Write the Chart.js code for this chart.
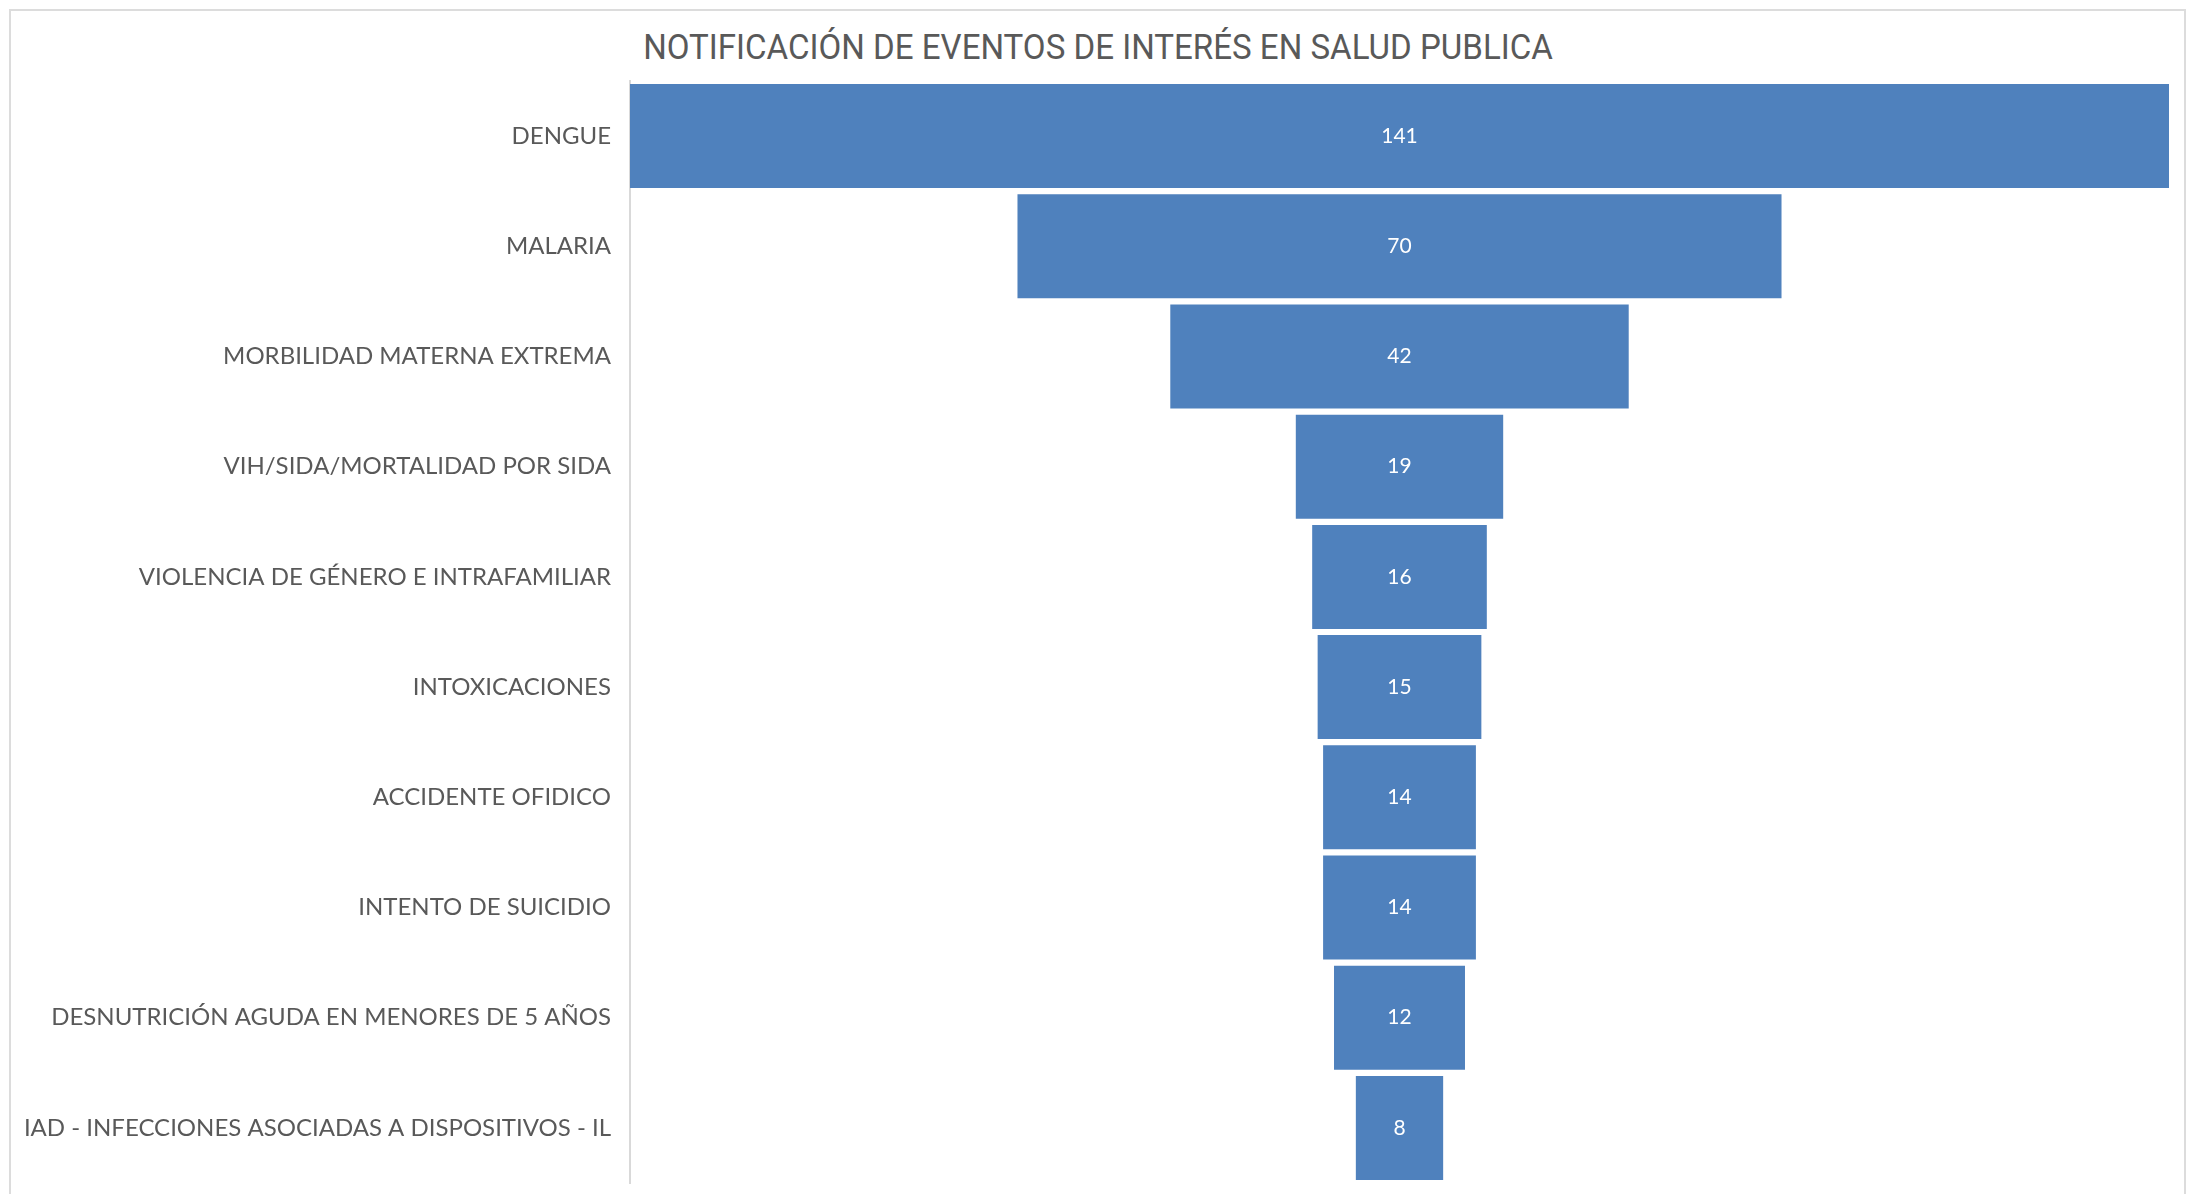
<!DOCTYPE html>
<html>
<head>
<meta charset="utf-8">
<script src="https://cdn.jsdelivr.net/npm/chart.js@4"></script>
<style>
  html, body { margin: 0; padding: 0; background: #ffffff; }
  body { width: 2190px; height: 1194px; overflow: hidden; position: relative; }
  #frame { position: absolute; left: 9px; top: 9px; width: 2177px; height: 1200px; border: 2px solid #dcdcdc; box-sizing: border-box; }
  #title { position: absolute; left: 0; width: 2196px; top: 26px; text-align: center; font-family: "Roboto", sans-serif; font-size: 35px; color: #595959; white-space: nowrap; line-height: 44px; transform: scaleX(0.945); transform-origin: 1098px 0; }
  #wrap { position: absolute; left: 0; top: 0; width: 2190px; height: 1194px; }
</style>
</head>
<body>
<div id="frame"></div>
<div id="title">NOTIFICACIÓN DE EVENTOS DE INTERÉS EN SALUD PUBLICA</div>
<div id="wrap"><canvas id="c" width="2190" height="1194"></canvas></div>
<script>
const categories = [
  "DENGUE",
  "MALARIA",
  "MORBILIDAD MATERNA EXTREMA",
  "VIH/SIDA/MORTALIDAD POR SIDA",
  "VIOLENCIA DE GÉNERO E INTRAFAMILIAR",
  "INTOXICACIONES",
  "ACCIDENTE OFIDICO",
  "INTENTO DE SUICIDIO",
  "DESNUTRICIÓN AGUDA EN MENORES DE 5 AÑOS",
  "IAD - INFECCIONES ASOCIADAS A DISPOSITIVOS - IL"
];
const values = [141, 70, 42, 19, 16, 15, 14, 14, 12, 8];

const maxVal = Math.max(...values);
const floating = values.map(v => [-v / 2, v / 2]);

const valueLabels = {
  id: 'valueLabels',
  afterDatasetsDraw(chart) {
    const ctx = chart.ctx;
    const meta = chart.getDatasetMeta(0);
    ctx.save();
    ctx.fillStyle = '#ffffff';
    ctx.font = '21px Lato, "Open Sans", sans-serif';
    ctx.textAlign = 'center';
    ctx.textBaseline = 'middle';
    meta.data.forEach((bar, i) => {
      const p = bar.getProps(['x', 'y', 'base'], true);
      ctx.fillText(String(values[i]), (p.x + p.base) / 2, p.y);
    });
    ctx.restore();
  }
};

new Chart(document.getElementById('c'), {
  type: 'bar',
  data: {
    labels: categories,
    datasets: [{
      data: floating,
      backgroundColor: '#4F81BD',
      borderWidth: 0,
      barPercentage: 0.944,
      categoryPercentage: 1.0
    }]
  },
  options: {
    indexAxis: 'y',
    responsive: false,
    animation: false,
    layout: { padding: { left: 0, right: 21, top: 81, bottom: 11 } },
    plugins: {
      legend: { display: false },
      title: { display: false },
      tooltip: { enabled: false }
    },
    scales: {
      x: {
        display: false,
        min: -maxVal / 2,
        max: maxVal / 2
      },
      y: {
        afterFit(scale) { scale.width = 630; scale.paddingTop = 0; scale.paddingBottom = 0; },
        grid: { display: true, color: 'rgba(0,0,0,0)', drawTicks: false },
        border: { display: true, color: '#d9d9d9', width: 2 },
        ticks: {
          color: '#595959',
          padding: 19,
          font: { family: 'Lato, "Open Sans", sans-serif', size: 24 }
        }
      }
    }
  },
  plugins: [valueLabels]
});
</script>
</body>
</html>
